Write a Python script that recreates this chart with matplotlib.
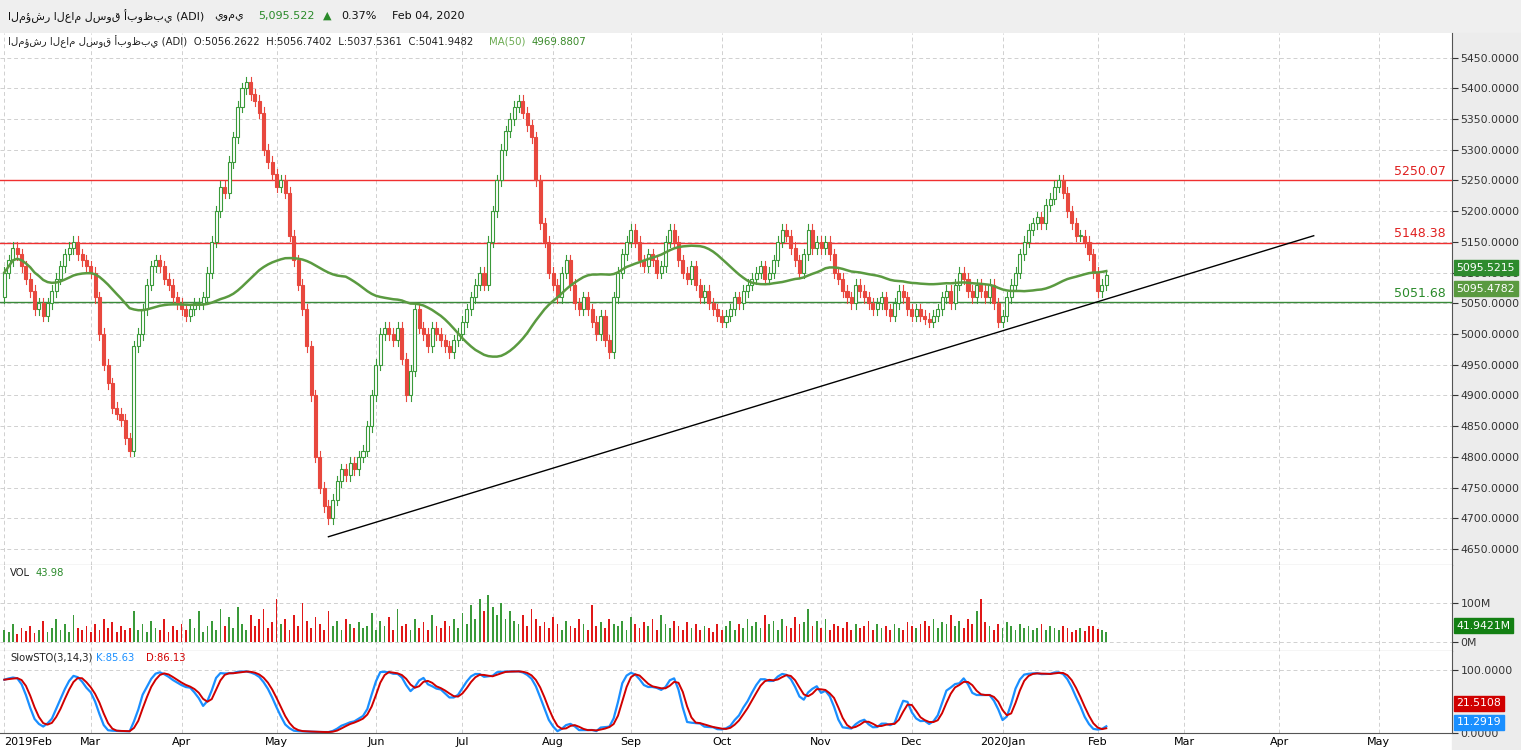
import numpy as np
import pandas as pd
import matplotlib
matplotlib.use("Agg")
import matplotlib.pyplot as plt
from matplotlib.patches import Rectangle

closes = [
 # Feb 2019
 5100,5120,5140,5130,5110,5090,5070,5040,5050,5030,5050,5070,5090,5110,5130,5140,5150,5130,5120,5110,
 # Mar
 5100,5060,5000,4950,4920,4880,4870,4860,4830,4810,4980,5000,5040,5080,5110,5120,5110,5090,5080,5060,5050,
 # Apr
 5040,5030,5040,5050,5050,5060,5100,5150,5200,5240,5230,5280,5320,5370,5400,5410,5390,5380,5360,5300,5280,5260,
 # May
 5240,5250,5230,5160,5120,5080,5040,4980,4900,4800,4750,4720,4700,4730,4760,4780,4770,4790,4780,4800,4810,4850,4900,
 # Jun
 4950,5000,5010,5000,4990,5010,4960,4900,4940,5040,5010,5000,4980,5010,5000,4990,4980,4970,4990,5000,
 # Jul
 5020,5040,5060,5080,5100,5080,5150,5200,5250,5300,5330,5350,5370,5380,5360,5340,5320,5250,5180,5150,5100,
 # Aug
 5080,5060,5100,5120,5080,5050,5040,5060,5040,5020,5000,5030,4990,4970,5060,5100,5130,5150,
 # Sep
 5170,5150,5120,5110,5130,5120,5100,5110,5150,5170,5150,5120,5100,5090,5110,5080,5060,5070,5050,5040,5030,
 # Oct
 5020,5030,5040,5060,5050,5070,5080,5090,5100,5110,5090,5100,5120,5150,5170,5160,5140,5120,5100,5130,5170,5140,5150,
 # Nov
 5140,5150,5130,5100,5090,5070,5060,5050,5080,5070,5060,5050,5040,5050,5060,5040,5030,5050,5070,5060,5040,
 # Dec
 5030,5040,5030,5025,5020,5030,5040,5060,5070,5050,5080,5100,5090,5070,5060,5080,5070,5060,5080,5050,5020,
 # Jan 2020
 5030,5060,5080,5100,5130,5150,5170,5180,5190,5180,5210,5220,5240,5250,5230,5200,5180,5160,5160,5150,5130,5100,
 # Feb
 5070,5080,5096,
]
first_open = 5060
volumes = [
 30,25,45,20,35,28,40,22,30,55,25,35,60,30,45,25,70,35,30,40,
 25,45,30,60,35,50,25,40,30,35,80,30,45,25,55,35,30,60,25,40,30,
 45,30,60,35,80,25,40,55,30,85,40,65,35,90,45,30,70,40,60,85,35,
 50,110,45,60,30,70,40,100,55,35,65,45,30,80,40,55,30,60,45,35,50,
 35,40,75,30,55,40,65,30,85,40,45,30,60,35,50,30,70,40,35,55,
 40,60,35,75,45,95,60,110,80,120,90,70,100,60,80,55,45,70,40,85,60,
 40,50,35,65,45,30,55,40,35,60,45,30,95,40,50,35,60,45,
 40,55,30,65,45,35,50,40,60,30,70,45,35,55,40,30,50,35,45,30,40,
 35,25,45,30,40,55,30,45,35,60,40,50,35,70,45,55,30,60,40,35,65,45,50,
 85,40,55,35,60,30,45,40,35,50,30,45,35,40,55,30,45,35,40,30,45,
 35,30,50,40,35,45,55,40,60,35,50,45,70,40,55,35,60,45,80,110,50,
 40,30,45,35,50,40,30,45,35,40,30,35,45,30,40,35,30,40,35,25,30,35,28,40,42,33,
 30,25,42,
]
volumes = volumes[:256]
month_labels = ["2019Feb","Mar","Apr","May","Jun","Jul","Aug","Sep","Oct","Nov","Dec","2020Jan","Feb","Mar","Apr","May"]
month_days = [20,21,22,23,20,21,18,21,23,21,21,22,20,22,23]
price_ticks = [4650,4700,4750,4800,4850,4900,4950,5000,5050,5100,5150,5200,5250,5300,5350,5400,5450]
red_levels = [5250.07, 5148.38]
green_level = 5051.68
trend_pts = [(75, 4670), (303, 5160)]

closes = np.array(closes, float)
n = len(closes)
opens = np.concatenate([[first_open], closes[:-1]])
highs = np.maximum(opens, closes) + 9
lows = np.minimum(opens, closes) - 9
x = np.arange(n)
ma = pd.Series(closes).rolling(50, min_periods=1).mean().values
hh = pd.Series(highs).rolling(14, min_periods=1).max()
ll = pd.Series(lows).rolling(14, min_periods=1).min()
fk = 100 * (pd.Series(closes) - ll) / (hh - ll)
K = fk.rolling(3, min_periods=1).mean()
D = K.rolling(3, min_periods=1).mean()
month_pos = np.concatenate([[0], np.cumsum(month_days)])

UP = "#3a9a3a"; DN = "#e8483e"; GRID = "#d0d0d0"
fig = plt.figure(figsize=(15.21, 7.5), dpi=100)
fig.patch.set_facecolor("white")
fig.add_artist(Rectangle((0, 1-33/750), 1, 33/750, transform=fig.transFigure, color="#efefef", zorder=0))
fig.add_artist(Rectangle((1452/1521, 0), 69/1521, 1-33/750, transform=fig.transFigure, color="#ececec", zorder=0))
W = 1452/1521
ax = fig.add_axes([0, 1-565/750, W, (565-33)/750])
axv = fig.add_axes([0, 1-651/750, W, 86/750], sharex=ax)
axs = fig.add_axes([0, 1-733/750, W, 82/750], sharex=ax)
XL = (-1, 335)
for a in (ax, axv, axs):
    a.set_xlim(*XL)
    a.yaxis.tick_right()
    a.tick_params(axis="y", labelsize=7.8, length=4, pad=2, colors="#333333")
    a.tick_params(axis="x", length=0)
    for s in ("top", "left"):
        a.spines[s].set_visible(False)
    a.spines["right"].set_color("#555555"); a.spines["bottom"].set_color("#555555")
    a.set_xticks(month_pos)
    a.grid(True, color=GRID, linestyle=(0, (4, 3)), linewidth=0.7)
    a.set_axisbelow(True)
ax.tick_params(labelbottom=False); axv.tick_params(labelbottom=False)
axs.set_xticklabels(month_labels, fontsize=8)
axs.get_xticklabels()[0].set_horizontalalignment("left")
axs.tick_params(axis="x", pad=3)

for i in x:
    up = closes[i] >= opens[i]
    c = UP if up else DN
    ax.plot([i, i], [lows[i], highs[i]], color=c, lw=0.8, zorder=2)
    lo = min(opens[i], closes[i]); h = max(abs(closes[i]-opens[i]), 1.5)
    ax.add_patch(Rectangle((i-0.35, lo), 0.7, h, facecolor="white" if up else DN, edgecolor=c, lw=0.8, zorder=3))
ax.plot(x, ma, color="#5a9a40", lw=1.8, zorder=4)
for lv in red_levels:
    ax.axhline(lv, color="#f03030", lw=1.0, zorder=1)
    ax.text(XL[1]-1.5, lv+4, f"{lv:.2f}", color="#e02020", fontsize=9, ha="right", va="bottom")
ax.axhline(green_level, color="#3a8a3a", lw=1.0, zorder=1)
ax.text(XL[1]-1.5, green_level+4, f"{green_level:.2f}", color="#2a8a2a", fontsize=9, ha="right", va="bottom")
ax.plot([trend_pts[0][0], trend_pts[1][0]], [trend_pts[0][1], trend_pts[1][1]], color="black", lw=1.0, zorder=5)
ax.set_ylim(4624, 5490)
ax.set_yticks(price_ticks)
ax.set_yticklabels([f"{v:.4f}" for v in price_ticks])
def tag(a, y, txt, col):
    a.text(1.003, y, txt, transform=a.get_yaxis_transform(), fontsize=7.8, color="white", va="center", ha="left",
           zorder=10, bbox=dict(boxstyle="square,pad=0.25", facecolor=col, edgecolor=col))
tag(ax, 5108, "5095.5215", "#2e8b2e")
tag(ax, 5074, "5095.4782", "#5a9a40")

renderer = fig.canvas.get_renderer()
def chain(px0, py, items, size):
    px = px0
    for s, col, gap in items:
        t = fig.text(px/1521, 1-py/750, s, fontsize=size, va="center", ha="left", color=col)
        px += t.get_window_extent(renderer).width + gap
chain(8, 16, [("المؤشر العام لسوق أبوظبي (ADI)", "#111111", 10), ("يومي", "#111111", 14),
              ("5,095.522", "#2a8a2a", 8), ("▲", "#2a8a2a", 10), ("0.37%", "#111111", 16),
              ("Feb 04, 2020", "#111111", 0)], 8)
chain(8, 42, [("المؤشر العام لسوق أبوظبي (ADI)  O:5056.2622  H:5056.7402  L:5037.5361  C:5041.9482", "#222222", 16),
              ("MA(50)", "#6aaa50", 6), ("4969.8807", "#3a8a2a", 0)], 7.3)

def ftext(px, py, s, col="#111111", size=8.2):
    fig.text(px/1521, 1-py/750, s, fontsize=size, va="center", ha="left", color=col)

vol = np.array(volumes, float)
vc = [UP if closes[i] >= opens[i] else "#e01818" for i in x]
axv.bar(x, vol, width=0.4, color=vc)
axv.set_ylim(-23, 197)
axv.set_yticks([0, 100]); axv.set_yticklabels(["0M", "100M"])
ftext(10, 573, "VOL", col="#222", size=7.2)
ftext(36, 573, "43.98", col="#2a8a2a", size=7.2)
tag(axv, 41.94, "41.9421M", "#138013")

axs.plot(x, K, color="#1a8fff", lw=1.6)
axs.plot(x, D, color="#d00000", lw=1.4)
axs.set_ylim(0, 130)
axs.set_yticks([0, 100]); axs.set_yticklabels(["0.0000", "100.0000"])
ftext(10, 658, "SlowSTO(3,14,3)", col="#222", size=7.2)
ftext(96, 658, "K:85.63", col="#1a8fff", size=7.2)
ftext(146, 658, "D:86.13", col="#d00000", size=7.2)
tag(axs, 47, "21.5108", "#d00000")
tag(axs, 17, "11.2919", "#1a8fff")
fig.savefig("out.png", dpi=100)
